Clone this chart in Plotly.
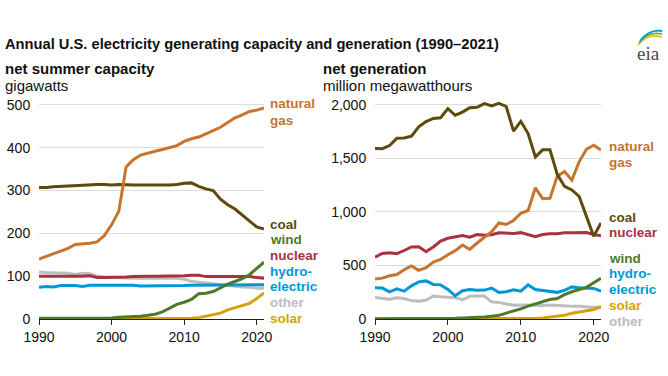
import plotly.graph_objects as go

years = list(range(1990, 2022))

# Net summer capacity (gigawatts)
cap_gas = [140, 146, 152, 158, 165, 174, 175, 177, 180, 195, 220, 252, 355, 372, 383, 388, 392, 396, 400, 405, 415, 421, 425, 432, 440, 448, 458, 470, 477, 485, 488, 493]
cap_coal = [307, 307, 309, 310, 311, 312, 313, 314, 314, 314, 313, 314, 313, 313, 313, 313, 312, 313, 313, 314, 317, 318, 310, 304, 300, 280, 267, 257, 243, 229, 215, 210]
cap_wind = [2, 2, 2, 2, 2, 2, 2, 2, 2, 2.5, 2.5, 4, 4.5, 6, 6.5, 8.7, 11.3, 16.5, 24.7, 34.3, 39.1, 45.7, 59.1, 60, 64.2, 72.6, 81.3, 87.6, 94.4, 103.5, 118.1, 132.7]
cap_nuclear = [100, 100, 99, 99, 99, 99, 100, 101, 97, 97, 97, 98, 98, 99, 100, 100, 100, 100, 101, 101, 101, 102, 102, 99, 99, 99, 100, 100, 100, 99, 97, 95]
cap_hydro = [74, 76, 75, 78, 78, 78, 76, 79, 79, 79, 79, 78, 79, 79, 77, 77, 77, 78, 78, 78, 78, 79, 79, 79, 79, 80, 80, 80, 80, 80, 80, 80]
cap_other = [110, 108, 108, 107, 107, 104, 107, 106, 100, 98, 98, 97, 96, 95, 95, 95, 95, 95, 96, 95, 93, 88, 86, 84, 82, 80, 78, 77, 75, 74, 72, 72]
cap_solar = [0.3, 0.3, 0.3, 0.3, 0.3, 0.3, 0.3, 0.3, 0.3, 0.3, 0.3, 0.3, 0.3, 0.3, 0.3, 0.3, 0.3, 0.4, 0.5, 0.6, 0.9, 1.5, 3.2, 6.2, 10, 13.7, 21.5, 27, 31.4, 36.5, 47.6, 61]

# Net generation (million megawatthours)
gen_coal = [1594, 1592, 1621, 1690, 1691, 1709, 1796, 1845, 1874, 1881, 1966, 1904, 1933, 1974, 1978, 2013, 1991, 2016, 1986, 1756, 1847, 1733, 1514, 1581, 1582, 1352, 1239, 1206, 1146, 965, 774, 898]
gen_gas = [373, 382, 404, 415, 460, 496, 455, 479, 532, 556, 601, 639, 691, 650, 710, 761, 816, 897, 883, 921, 988, 1014, 1226, 1125, 1127, 1335, 1379, 1297, 1469, 1586, 1624, 1579]
gen_nuclear = [577, 613, 619, 610, 640, 673, 675, 628, 673, 728, 754, 769, 780, 764, 789, 782, 787, 806, 806, 799, 807, 790, 769, 789, 797, 797, 806, 805, 807, 809, 790, 778]
gen_hydro = [293, 289, 254, 281, 260, 310, 347, 356, 323, 319, 276, 217, 264, 276, 268, 270, 289, 247, 254, 273, 260, 319, 276, 269, 259, 249, 268, 300, 292, 288, 286, 260]
gen_wind = [3, 3, 3, 3, 3.4, 3.2, 3.2, 3.3, 3, 4.5, 5.6, 6.7, 10.4, 11.2, 14.1, 17.8, 26.6, 34.5, 55.4, 73.9, 94.7, 120.2, 140.8, 167.8, 181.7, 190.7, 227, 254.3, 272.7, 295.9, 337.9, 379.8]
gen_solar = [0.4, 0.5, 0.4, 0.5, 0.5, 0.5, 0.5, 0.5, 0.5, 0.5, 0.5, 0.5, 0.6, 0.5, 0.6, 0.6, 0.5, 0.6, 0.9, 0.9, 1.2, 1.8, 4.3, 9, 17.7, 24.9, 36, 53.3, 63.8, 72.2, 89.2, 115]
gen_other = [200, 195, 185, 198, 192, 172, 165, 175, 215, 208, 200, 198, 180, 212, 215, 215, 160, 155, 140, 128, 130, 128, 125, 125, 130, 125, 120, 118, 120, 112, 108, 110]

cap_ticks = [0, 100, 200, 300, 400, 500]
gen_ticks = [0, 500, 1000, 1500, 2000]
gen_tick_labels = ["0", "500", "1,000", "1,500", "2,000"]
x_ticks = [1990, 2000, 2010, 2020]

C_GAS = "#c8742f"
C_COAL = "#5e4a0b"
C_WIND = "#4d7a28"
C_NUC = "#a8323f"
C_HYD = "#0097d8"
C_OTH = "#bdbdbd"
C_SOL = "#d4a20c"

W, H = 668, 376

def px(x):
    return x / W

def py(y):
    return (H - y) / H

fig = go.Figure()

left_series = [
    (cap_other, C_OTH), (cap_hydro, C_HYD), (cap_nuclear, C_NUC), (cap_solar, C_SOL),
    (cap_wind, C_WIND), (cap_coal, C_COAL), (cap_gas, C_GAS),
]
for vals, col in left_series:
    fig.add_trace(go.Scatter(x=years, y=vals, mode="lines", line=dict(color=col, width=3),
                             xaxis="x", yaxis="y", showlegend=False, hoverinfo="skip"))

right_series = [
    (gen_other, C_OTH), (gen_hydro, C_HYD), (gen_solar, C_SOL), (gen_wind, C_WIND),
    (gen_nuclear, C_NUC), (gen_gas, C_GAS), (gen_coal, C_COAL),
]
for vals, col in right_series:
    fig.add_trace(go.Scatter(x=years, y=vals, mode="lines", line=dict(color=col, width=3),
                             xaxis="x2", yaxis="y2", showlegend=False, hoverinfo="skip"))

font_family = "Liberation Sans, Arial, sans-serif"

xaxis_common = dict(
    range=[1990, 2021], tickvals=x_ticks, showgrid=False, zeroline=False,
    showline=True, linecolor="#222222", linewidth=1.2,
    ticks="outside", ticklen=5, tickcolor="#222222", tickwidth=1,
    tickfont=dict(size=14, color="#111111", family=font_family),
    fixedrange=True, automargin=False,
)
yaxis_common = dict(
    showgrid=True, gridcolor="#dcdcdc", gridwidth=1, zeroline=False, showline=False,
    ticks="outside", ticklen=5, tickcolor="rgba(0,0,0,0)",
    tickfont=dict(size=14, color="#111111", family=font_family),
    fixedrange=True, automargin=False,
)

y_bottom = py(319)
y_top = py(100.7)

fig.update_layout(
    width=W, height=H,
    margin=dict(l=0, r=0, t=0, b=0, autoexpand=False),
    paper_bgcolor="white", plot_bgcolor="white",
    font=dict(family=font_family, color="#111111"),
    xaxis=dict(domain=[px(39), px(264)], anchor="y", **xaxis_common),
    yaxis=dict(domain=[y_bottom, y_top], anchor="x", range=[0, 510], tickvals=cap_ticks, **yaxis_common),
    xaxis2=dict(domain=[px(375), px(601)], anchor="y2", **xaxis_common),
    yaxis2=dict(domain=[y_bottom, y_top], anchor="x2", range=[0, 2040], tickvals=gen_ticks,
                ticktext=gen_tick_labels, **yaxis_common),
)

annotations = []

def text(x, y, s, size=14, color="#111111", bold=False, family=font_family):
    annotations.append(dict(
        x=px(x), y=py(y), xref="paper", yref="paper", xanchor="left", yanchor="middle",
        text=f"<b>{s}</b>" if bold else s, showarrow=False, xshift=-1,
        font=dict(size=size, color=color, family=family),
    ))

text(4, 44, "Annual U.S. electricity generating capacity and generation (1990\u20132021)", size=14.7, bold=True)
text(4, 68, "net summer capacity", size=15, bold=True)
text(4, 86, "gigawatts", size=15)
text(322, 68, "net generation", size=15, bold=True)
text(322, 86, "million megawatthours", size=15)

# Left series labels
lx = 269
for s, y, c in [("natural", 104, C_GAS), ("gas", 121, C_GAS), ("coal", 224, C_COAL),
                ("wind", 239, C_WIND), ("nuclear", 255, C_NUC), ("hydro-", 271, C_HYD),
                ("electric", 286, C_HYD), ("other", 302, C_OTH), ("solar", 318, C_SOL)]:
    text(lx, y, s, size=13.5, color=c, bold=True)

# Right series labels
rx = 608
for s, y, c in [("natural", 146, C_GAS), ("gas", 162, C_GAS), ("coal", 217, C_COAL),
                ("nuclear", 232, C_NUC), ("wind", 258, C_WIND), ("hydro-", 273, C_HYD),
                ("electric", 289, C_HYD), ("solar", 305, C_SOL), ("other", 321, C_OTH)]:
    text(rx, y, s, size=13.5, color=c, bold=True)

# eia logo
annotations.append(dict(
    x=px(648), y=py(54), xref="paper", yref="paper", xanchor="center", yanchor="middle",
    text="eia", showarrow=False,
    font=dict(size=19, color="#4a4a4a", family="Liberation Serif, DejaVu Serif, serif"),
))

fig.update_layout(annotations=annotations)

shapes = []
for (x0, y0, cx, cy, x1, y1, col) in [
    (638, 45, 647, 33, 662, 37, "#f2c21b"),
    (639, 43, 648, 31, 662, 34, "#6db33f"),
    (640, 41, 649, 29, 662, 31, "#0097d8"),
]:
    shapes.append(dict(
        type="path", xref="paper", yref="paper",
        path=f"M {px(x0)},{py(y0)} Q {px(cx)},{py(cy)} {px(x1)},{py(y1)}",
        line=dict(color=col, width=1.8),
    ))
fig.update_layout(shapes=shapes)

fig.write_html("out.html", config={"displayModeBar": False},
               post_script="document.body.style.margin='0';")
